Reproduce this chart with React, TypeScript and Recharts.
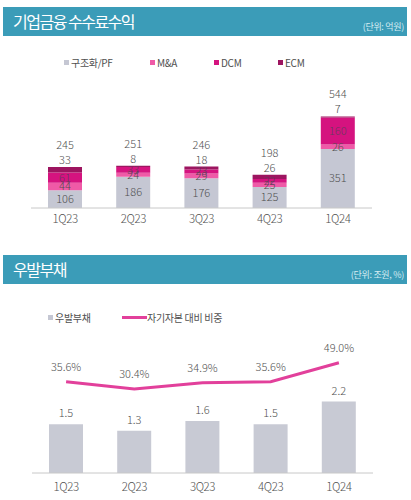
import React from "react";
import { Bar, BarChart, ComposedChart, LabelList, Line, XAxis, YAxis } from "recharts";

const quarters = ["1Q23", "2Q23", "3Q23", "4Q23", "1Q24"];
const pfFees = [106, 186, 176, 125, 351];
const maFees = [44, 24, 29, 25, 26];
const dcmFees = [61, 33, 23, 22, 160];
const ecmFees = [33, 8, 18, 26, 7];
const feeTotals = [245, 251, 246, 198, 544];
const contingent = [1.5, 1.3, 1.6, 1.5, 2.2];
const equityRatio = [35.6, 30.4, 34.9, 35.6, 49.0];

const feeData = quarters.map((q, i) => ({
  q, pf: pfFees[i], ma: maFees[i], dcm: dcmFees[i], ecm: ecmFees[i], total: feeTotals[i],
}));
const debtData = quarters.map((q, i) => ({ q, debt: contingent[i], ratio: equityRatio[i] }));

const FONT = '"Noto Sans CJK KR", "Noto Sans", sans-serif';
const TEAL = "#3b9cb8";
const GREY = "#c5c7d3";
const C_MA = "#ef5aa7";
const C_DCM = "#d5137f";
const C_ECM = "#9d1560";
const LINE = "#e2409b";
const TXT = "#505050";

const above = (off: number, fmt?: (v: any) => string) => (p: any) => (
  <text
    x={Number(p.x) + Number(p.width || 0) / 2}
    y={Number(p.y) - off}
    textAnchor="middle"
    dominantBaseline="central"
    fill={TXT}
    fontSize={11}
    fontFamily={FONT}
    fontWeight={300}
  >
    {fmt ? fmt(p.value) : p.value}
  </text>
);

function Header({ top, title, unit }: { top: number; title: string; unit: string }) {
  return (
    <div style={{ position: "absolute", left: 3, top, width: 404, height: 29, background: TEAL }}>
      <div style={{ position: "absolute", left: 10, top: 0, lineHeight: "29px", fontSize: 16, letterSpacing: -1.5, color: "#fff" }}>
        {title}
      </div>
      <div style={{ position: "absolute", right: 3, top: 14, lineHeight: "12px", fontSize: 9, letterSpacing: -0.3, color: "#d6ecf2" }}>
        {unit}
      </div>
    </div>
  );
}

function Swatch({ left, top, color, label }: { left: number; top: number; color: string; label: string }) {
  return (
    <div style={{ position: "absolute", left, top, display: "flex", alignItems: "center", fontSize: 10, color: TXT, letterSpacing: -0.3, whiteSpace: "nowrap" }}>
      <span style={{ width: 5, height: 5, background: color, marginRight: 2, display: "inline-block" }} />
      {label}
    </div>
  );
}

export default function App() {
  const tick = { fill: TXT, fontSize: 11.5, fontFamily: FONT, fontWeight: 300, letterSpacing: -0.4 };
  return (
    <div style={{ position: "absolute", left: 0, top: 0, width: 411, height: 500, background: "#fff", fontFamily: FONT }}>
      <Header top={7} title="기업금융 수수료수익" unit="(단위: 억원)" />
      <Swatch left={64} top={55} color={GREY} label="구조화/PF" />
      <Swatch left={150} top={55} color={C_MA} label="M&A" />
      <Swatch left={214} top={55} color={C_DCM} label="DCM" />
      <Swatch left={278} top={55} color={C_ECM} label="ECM" />

      <div style={{ position: "absolute", left: 0, top: 80 }}>
        <BarChart width={411} height={150} data={feeData} margin={{ top: 27, right: 39, left: 31, bottom: 0 }} barSize={34}>
          <XAxis dataKey="q" height={22} tickLine={false} tickMargin={1} axisLine={{ stroke: "#c8c8c8" }} tick={tick} />
          <YAxis hide domain={[0, 600]} />
          <Bar dataKey="pf" stackId="a" fill={GREY} isAnimationActive={false}>
            <LabelList dataKey="pf" position="center" fill={TXT} fontSize={11} fontFamily={FONT} fontWeight={300} />
          </Bar>
          <Bar dataKey="ma" stackId="a" fill={C_MA} isAnimationActive={false}>
            <LabelList dataKey="ma" position="center" fill={TXT} fontSize={11} fontFamily={FONT} fontWeight={300} />
          </Bar>
          <Bar dataKey="dcm" stackId="a" fill={C_DCM} isAnimationActive={false}>
            <LabelList dataKey="dcm" position="center" fill="#6a3a5e" fontSize={11} fontFamily={FONT} fontWeight={300} />
          </Bar>
          <Bar dataKey="ecm" stackId="a" fill={C_ECM} isAnimationActive={false}>
            <LabelList dataKey="ecm" content={above(8)} />
            <LabelList dataKey="total" content={above(23)} />
          </Bar>
        </BarChart>
      </div>

      <Header top={255} title="우발부채" unit="(단위: 조원, %)" />
      <Swatch left={48} top={310} color={GREY} label="우발부채" />
      <div style={{ position: "absolute", left: 122, top: 310, display: "flex", alignItems: "center", fontSize: 10, color: TXT, letterSpacing: -0.3, whiteSpace: "nowrap" }}>
        <span style={{ width: 25, height: 3, background: LINE, display: "inline-block" }} />
        자기자본 대비 비중
      </div>

      <div style={{ position: "absolute", left: 0, top: 330 }}>
        <ComposedChart width={411} height={170} data={debtData} margin={{ top: 13, right: 38, left: 32, bottom: 0 }} barSize={34}>
          <XAxis dataKey="q" height={27} tickLine={false} tickMargin={4} axisLine={{ stroke: "#c8c8c8" }} tick={tick} />
          <YAxis yAxisId="l" hide domain={[0, 4]} />
          <YAxis yAxisId="r" hide orientation="right" domain={[-28.8, 62.9]} allowDataOverflow />
          <Bar yAxisId="l" dataKey="debt" fill="#c8cad4" isAnimationActive={false}>
            <LabelList dataKey="debt" content={above(12, (v) => Number(v).toFixed(1))} />
          </Bar>
          <Line yAxisId="r" dataKey="ratio" type="linear" stroke={LINE} strokeWidth={3} dot={false} isAnimationActive={false}>
            <LabelList dataKey="ratio" content={above(16, (v) => Number(v).toFixed(1) + "%")} />
          </Line>
        </ComposedChart>
      </div>
    </div>
  );
}
